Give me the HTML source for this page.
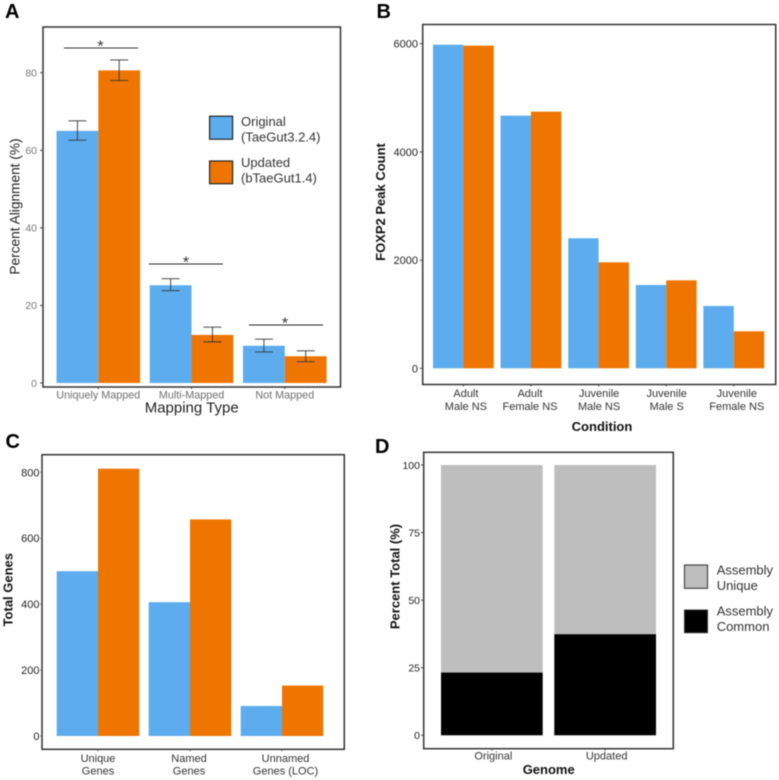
<!DOCTYPE html>
<html lang="en">
<head>
<meta charset="utf-8">
<title>Genome assembly comparison</title>
<style>
html,body{margin:0;padding:0;background:#fff;width:779px;height:780px;overflow:hidden}
svg{display:block;filter:blur(0.45px)}
text{font-family:"Liberation Sans",Arial,sans-serif}
</style>
</head>
<body>
<svg id="figure" xmlns="http://www.w3.org/2000/svg" width="779" height="780" viewBox="0 0 779 780"></svg>
<script>
// Panel A data
const aCategories = ["Uniquely Mapped", "Multi-Mapped", "Not Mapped"];
const aOriginal = [65, 25.2, 9.6];
const aUpdated = [80.6, 12.4, 6.9];
const aOriginalErrLow = [62.6, 23.8, 8.0];
const aOriginalErrHigh = [67.6, 26.9, 11.3];
const aUpdatedErrLow = [78, 10.6, 5.5];
const aUpdatedErrHigh = [83.3, 14.4, 8.3];
const aTicks = [0, 20, 40, 60, 80];

// Panel B data
const bCategories = [["Adult", "Male NS"], ["Adult", "Female NS"], ["Juvenile", "Male NS"], ["Juvenile", "Male S"], ["Juvenile", "Female NS"]];
const bOriginal = [5981, 4670, 2403, 1540, 1152];
const bUpdated = [5964, 4744, 1959, 1626, 684];
const bTicks = [0, 2000, 4000, 6000];

// Panel C data
const cCategories = [["Unique", "Genes"], ["Named", "Genes"], ["Unnamed", "Genes (LOC)"]];
const cOriginal = [500, 406, 91];
const cUpdated = [811, 657, 153];
const cTicks = [0, 200, 400, 600, 800];

// Panel D data
const dCategories = ["Original", "Updated"];
const dCommon = [23.2, 37.4];
const dTotal = [100, 100];
const dTicks = [0, 25, 50, 75, 100];

const BLUE = "#5CACEE";
const ORANGE = "#EE7600";
const GREY = "#BEBEBE";
const svg = document.getElementById("figure");
const NS = "http://www.w3.org/2000/svg";

function rect(x, y, w, h, fill, name, stroke, sw) {
  const el = document.createElementNS(NS, "rect");
  el.setAttribute("x", x);
  el.setAttribute("y", y);
  el.setAttribute("width", w);
  el.setAttribute("height", h);
  el.setAttribute("fill", fill);
  if (stroke) {
    el.setAttribute("stroke", stroke);
    el.setAttribute("stroke-width", sw);
  }
  
  
  svg.appendChild(el);
  return el;
}
function line(x1, y1, x2, y2, color, sw, name) {
  const el = document.createElementNS(NS, "line");
  el.setAttribute("x1", x1);
  el.setAttribute("y1", y1);
  el.setAttribute("x2", x2);
  el.setAttribute("y2", y2);
  el.setAttribute("stroke", color);
  el.setAttribute("stroke-width", sw);
  
  
  svg.appendChild(el);
  return el;
}
function label(str, x, y, size, color, anchor, weight, name, rotate) {
  const el = document.createElementNS(NS, "text");
  el.textContent = str;
  el.setAttribute("x", x);
  el.setAttribute("y", y);
  el.setAttribute("font-size", size);
  el.setAttribute("fill", color);
  el.setAttribute("text-anchor", anchor);
  el.setAttribute("font-weight", weight);
  if (rotate) el.setAttribute("transform", "rotate(-90 " + x + " " + y + ")");
  
  
  svg.appendChild(el);
  return el;
}
function linear(y0, y1, v1) {
  return function (v) { return y0 + (y1 - y0) * (v / v1); };
}
function frame(x0, y0, x1, y1, name) {
  const el = rect(x0, y0, x1 - x0, y1 - y0, "none", name, "#333", 1.5);
  return el;
}
function yAxis(ticks, scale, frameX, labelX, size, color, name) {
  const tickLen = Math.min(3, frameX - labelX - 1);
  ticks.forEach(function (t) {
    line(frameX - tickLen, scale(t), frameX, scale(t), "#444", 1, name + "-tick-" + t);
    label(String(t), labelX, scale(t) + size * 0.36, size, color, "end", "normal", name + "-label-" + t);
  });
}
function groupedBars(first, second, start, step, w, scale, name) {
  first.forEach(function (v, i) {
    const x = start + i * step;
    rect(x, scale(v), w, scale(0) - scale(v), BLUE, name + "-original-bar-" + i);
    rect(x + w, scale(second[i]), w, scale(0) - scale(second[i]), ORANGE, name + "-updated-bar-" + i);
  });
}
function multilineLabels(cats, centers, y1, y2, size, color, name) {
  cats.forEach(function (lines, i) {
    label(lines[0], centers(i), y1, size, color, "middle", "normal", name + "-line1-" + i);
    label(lines[1], centers(i), y2, size, color, "middle", "normal", name + "-line2-" + i);
  });
}
function errorBar(cx, low, high, scale, name) {
  line(cx, scale(low), cx, scale(high), "#333", 0.9, name + "-stem");
  line(cx - 9, scale(high), cx + 9, scale(high), "#333", 0.9, name + "-cap-high");
  line(cx - 9, scale(low), cx + 9, scale(low), "#333", 0.9, name + "-cap-low");
}

// ---------- Panel A ----------
const yA = linear(383, 72.7, 80);
const aStart = 56.5, aStep = 93.25, aW = 41.8;
label("A", 5, 18, 20, "#000", "start", "bold", "panel-a-letter");
groupedBars(aOriginal, aUpdated, aStart, aStep, aW, yA, "panel-a");
aCategories.forEach(function (c, i) {
  const x = aStart + i * aStep;
  errorBar(x + aW / 2, aOriginalErrLow[i], aOriginalErrHigh[i], yA, "panel-a-original-error-" + i);
  errorBar(x + aW * 1.5, aUpdatedErrLow[i], aUpdatedErrHigh[i], yA, "panel-a-updated-error-" + i);
  line(x + aW, 387, x + aW, 389, "#444", 1, "panel-a-x-tick-" + i);
  label(c, x + aW, 398.5, 10.8, "#6e6e6e", "middle", "normal", "panel-a-x-label-" + i);
});
frame(43, 27, 340.5, 387, "panel-a-frame");
yAxis(aTicks, yA, 43, 37, 10.5, "#777", "panel-a-y");
label("Mapping Type", 191.7, 412.5, 15, "#222", "middle", "normal", "panel-a-x-title");
label("Percent Alignment (%)", 19.5, 206.5, 13.7, "#222", "middle", "normal", "panel-a-y-title", true);
line(64, 48, 138, 48, "#333", 1.1, "sig-bar-uniquely-mapped");
line(149, 264, 223, 264, "#222", 1.1, "sig-bar-multi-mapped");
line(249, 325, 323, 325, "#222", 1.1, "sig-bar-not-mapped");
label("*", 100.5, 51.3, 16, "#333", "middle", "normal", "sig-star-uniquely-mapped");
label("*", 186, 267.7, 16, "#333", "middle", "normal", "sig-star-multi-mapped");
label("*", 285, 328.3, 16, "#333", "middle", "normal", "sig-star-not-mapped");
rect(209.6, 116.2, 23, 23, BLUE, "legend-swatch-original", "#222", 1.2);
rect(209.6, 161, 23, 22.7, ORANGE, "legend-swatch-updated", "#222", 1.2);
label("Original", 241, 126, 13, "#333", "start", "normal", "legend-original-name");
label("(TaeGut3.2.4)", 241, 141.7, 13, "#333", "start", "normal", "legend-original-version");
label("Updated", 241, 167, 13, "#333", "start", "normal", "legend-updated-name");
label("(bTaeGut1.4)", 241, 182.7, 13, "#333", "start", "normal", "legend-updated-version");

// ---------- Panel B ----------
const yB = linear(368.3, 43.7, 6000);
const bStart = 433, bStep = 67.6, bW = 30.4;
label("B", 376.5, 18, 20, "#000", "start", "bold", "panel-b-letter");
groupedBars(bOriginal, bUpdated, bStart, bStep, bW, yB, "panel-b");
frame(422.7, 24.5, 775.7, 384.5, "panel-b-frame");
yAxis(bTicks, yB, 422.7, 418, 11, "#222", "panel-b-y");
bCategories.forEach(function (c, i) {
  const tx = bStart + i * bStep + bW;
  line(tx, 384.5, tx, 386.5, "#444", 1, "panel-b-x-tick-" + i);
});
multilineLabels(bCategories, function (i) { return bStart + i * bStep + bW + (i === 0 ? 2.5 : i === 1 ? -1 : i === 4 ? 3 : 0.5); }, 397, 410, 11, "#333", "panel-b-x-label");
label("Condition", 602, 431, 13, "#111", "middle", "bold", "panel-b-x-title");
label("FOXP2 Peak Count", 385, 202, 13, "#111", "middle", "bold", "panel-b-y-title", true);

// ---------- Panel C ----------
const yC = linear(736, 472.3, 800);
const cStart = 56.7, cStep = 92, cW = 41.3;
label("C", 5.5, 448, 20, "#000", "start", "bold", "panel-c-letter");
groupedBars(cOriginal, cUpdated, cStart, cStep, cW, yC, "panel-c");
frame(42, 454.7, 344.3, 749.3, "panel-c-frame");
yAxis(cTicks, yC, 42, 39.5, 11, "#222", "panel-c-y");
cCategories.forEach(function (c, i) {
  const tx = cStart + i * cStep + cW;
  line(tx, 749.3, tx, 751, "#444", 1, "panel-c-x-tick-" + i);
});
multilineLabels(cCategories, function (i) { return cStart + i * cStep + cW + (i === 2 ? 3.5 : i === 1 ? -1 : 0); }, 762, 774.5, 11, "#333", "panel-c-x-label");
label("Total Genes", 12.3, 589.7, 13, "#111", "middle", "bold", "panel-c-y-title", true);

// ---------- Panel D ----------
const yD = linear(735.3, 465, 100);
const dStart = 441, dStep = 113.3, dW = 101.7;
label("D", 375, 453, 20, "#000", "start", "bold", "panel-d-letter");
dCategories.forEach(function (c, i) {
  const x = dStart + i * dStep;
  rect(x, yD(dTotal[i]), dW, yD(dCommon[i]) - yD(dTotal[i]), GREY, "panel-d-unique-bar-" + i);
  rect(x, yD(dCommon[i]), dW, yD(0) - yD(dCommon[i]), "#000", "panel-d-common-bar-" + i);
  label(c, x + dW / 2 + 1.5, 759.5, 11, "#333", "middle", "normal", "panel-d-x-label-" + i);
  line(x + dW / 2, 748.7, x + dW / 2, 750.5, "#444", 1, "panel-d-x-tick-" + i);
});
frame(423.7, 452.3, 673.3, 748.7, "panel-d-frame");
yAxis(dTicks, yD, 423.7, 420, 10.5, "#222", "panel-d-y");
label("Genome", 548.7, 774, 13, "#111", "middle", "bold", "panel-d-x-title");
label("Percent Total (%)", 399.5, 576.5, 13, "#111", "middle", "bold", "panel-d-y-title", true);
rect(684.5, 565, 23, 23.3, GREY, "legend-swatch-assembly-unique", "#444", 1.2);
rect(684.5, 610, 23, 22.7, "#000", "legend-swatch-assembly-common", "#333", 1);
label("Assembly", 716.7, 574.5, 13, "#333", "start", "normal", "legend-unique-line1");
label("Unique", 716.7, 590, 13, "#333", "start", "normal", "legend-unique-line2");
label("Assembly", 716.7, 615.5, 13, "#333", "start", "normal", "legend-common-line1");
label("Common", 716.7, 631, 13, "#333", "start", "normal", "legend-common-line2");
</script>
</body>
</html>
